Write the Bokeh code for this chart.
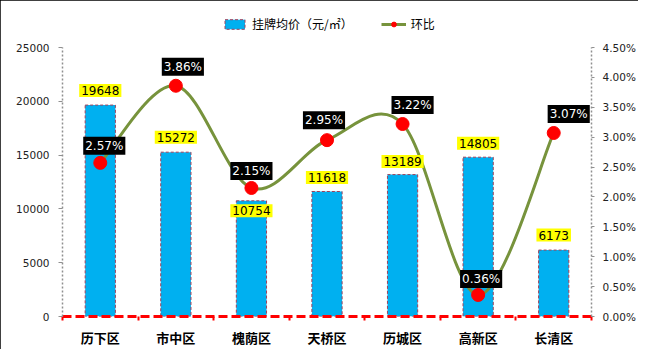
from bokeh.plotting import figure
from bokeh.models import (Range1d, LinearAxis, FixedTicker, Legend, LegendItem,
                          PrintfTickFormatter)
from bokeh.embed import file_html
from bokeh.resources import INLINE
from bokeh.core.properties import value

# ---------------- data ----------------
categories = ["历下区", "市中区", "槐荫区", "天桥区", "历城区", "高新区", "长清区"]
prices = [19648, 15272, 10754, 11618, 13189, 14805, 6173]
mom_pct = [2.57, 3.86, 2.15, 2.95, 3.22, 0.36, 3.07]
price_ticks = [0, 5000, 10000, 15000, 20000, 25000]
pct_ticks = [0.0, 0.5, 1.0, 1.5, 2.0, 2.5, 3.0, 3.5, 4.0, 4.5]
bar_label = "挂牌均价（元/㎡）"
line_label = "环比"

# label placement (screen px, styling only)
bar_label_dy = [-14.5, -15, 10, -14, -13, -14, -15]
pct_label_dx = [4, 7, 0, -3, 10, 3, 15]
pct_label_dy = [-17, -19, -17, -20, -19, -16, -19]

n = len(categories)
xs = [i + 0.5 for i in range(n)]

NUM_FONT = "DejaVu Sans"
CJK_FONT = "Noto Sans CJK SC"

# layout (px): plotted axis span and headroom above it for the legend
FRAME_W = 529
BORDER_L, BORDER_R, BORDER_T, BORDER_B = 62, 45, 4, 31
AXIS_SPAN = 269          # pixel height of 0..max tick
FRAME_H = 312
headroom = FRAME_H / AXIS_SPAN

p = figure(frame_width=FRAME_W, frame_height=FRAME_H, x_range=Range1d(0, n),
           y_range=Range1d(price_ticks[0], price_ticks[-1] * headroom),
           output_backend="svg", toolbar_location=None,
           min_border_left=BORDER_L, min_border_right=BORDER_R,
           min_border_top=BORDER_T, min_border_bottom=BORDER_B)
p.extra_y_ranges = {"pct": Range1d(pct_ticks[0], pct_ticks[-1] * headroom)}
p.outline_line_color = None
p.xgrid.visible = False
p.ygrid.visible = False
p.background_fill_color = "white"
p.border_fill_color = "white"
p.styles = {"outline": "2px solid black", "outline-offset": "-2px"}

# ---------------- bars ----------------
bars = p.vbar(x=xs, top=prices, width=0.4, bottom=0,
              fill_color="#00B0F0", line_color="#A0405A",
              line_dash="3 2", line_width=1)

# ---------------- smooth line ----------------
def tangent(i):
    a = max(i - 1, 0)
    b = min(i + 1, n - 1)
    return ((xs[b] - xs[a]) / 6.0, (mom_pct[b] - mom_pct[a]) / 6.0)

x0, y0, x1, y1, cx0, cy0, cx1, cy1 = [], [], [], [], [], [], [], []
for i in range(n - 1):
    t0 = tangent(i)
    t1 = tangent(i + 1)
    x0.append(xs[i]); y0.append(mom_pct[i])
    x1.append(xs[i + 1]); y1.append(mom_pct[i + 1])
    cx0.append(xs[i] + t0[0]); cy0.append(mom_pct[i] + t0[1])
    cx1.append(xs[i + 1] - t1[0]); cy1.append(mom_pct[i + 1] - t1[1])

curve = p.bezier(x0=x0, y0=y0, x1=x1, y1=y1, cx0=cx0, cy0=cy0, cx1=cx1, cy1=cy1,
                 line_color="#77933C", line_width=3, y_range_name="pct")
dots = p.scatter(x=xs, y=mom_pct, size=13, marker="circle",
                 fill_color="#FF0000", line_color="#FF0000", y_range_name="pct")

# ---------------- data labels ----------------
p.text(x=xs, y=prices, text=[str(v) for v in prices],
       text_align="center", text_baseline="middle", y_offset=bar_label_dy,
       text_font=value(NUM_FONT), text_font_size="12px", text_color="black",
       background_fill_color="#FFFF00", padding=2)

p.text(x=xs, y=mom_pct, text=[f"{v:.2f}%" for v in mom_pct],
       text_align="center", text_baseline="middle",
       x_offset=pct_label_dx, y_offset=pct_label_dy,
       text_font=value(NUM_FONT), text_font_size="12px", text_color="white",
       background_fill_color="black", padding=2, y_range_name="pct")

# ---------------- axes ----------------
xa = p.xaxis[0]
xa.ticker = FixedTicker(ticks=xs, minor_ticks=list(range(n + 1)))
xa.major_label_overrides = {x: c for x, c in zip(xs, categories)}
xa.axis_line_color = "#FF0000"
xa.axis_line_width = 3
xa.axis_line_dash = "9 4"
xa.major_tick_line_color = None
xa.major_tick_out = 0
xa.major_tick_in = 0
xa.minor_tick_line_color = "#FF0000"
xa.minor_tick_line_width = 2
xa.minor_tick_out = 4
xa.minor_tick_in = 0
xa.major_label_standoff = 7
xa.major_label_text_font = CJK_FONT
xa.major_label_text_font_style = "bold"
xa.major_label_text_font_size = "13px"
xa.major_label_text_color = "black"

ya = p.yaxis[0]
ya.ticker = FixedTicker(ticks=price_ticks)
ya.bounds = (price_ticks[0], price_ticks[-1])
ya.axis_line_color = "#909090"
ya.axis_line_dash = "2 2"
ya.axis_line_width = 1.5
ya.major_tick_line_color = "#909090"
ya.major_tick_out = 4
ya.major_tick_in = 0
ya.minor_tick_line_color = None
ya.major_label_standoff = 9
ya.major_label_text_font = NUM_FONT
ya.major_label_text_font_size = "10.5px"
ya.major_label_text_color = "#222222"

ra = LinearAxis(y_range_name="pct", ticker=FixedTicker(ticks=pct_ticks),
                formatter=PrintfTickFormatter(format="%.2f%%"),
                bounds=(pct_ticks[0], pct_ticks[-1]))
ra.axis_line_color = "#909090"
ra.axis_line_dash = "2 2"
ra.axis_line_width = 1.5
ra.major_tick_line_color = "#909090"
ra.major_tick_out = 3
ra.major_tick_in = 0
ra.minor_tick_line_color = None
ra.major_label_standoff = 8
ra.major_label_text_font = NUM_FONT
ra.major_label_text_font_size = "10.5px"
ra.major_label_text_color = "#222222"
p.add_layout(ra, "right")

# ---------------- legend ----------------
legend = Legend(items=[LegendItem(label=bar_label, renderers=[bars]),
                       LegendItem(label=line_label, renderers=[curve, dots])],
                orientation="horizontal", location=(160, 284),
                margin=0, padding=0, spacing=28,
                glyph_width=25, glyph_height=12, label_standoff=5,
                label_height=14,
                label_text_font=CJK_FONT, label_text_font_size="12px",
                label_text_color="black",
                border_line_color=None, background_fill_alpha=0)
p.add_layout(legend)

open("out.html", "w").write(file_html(p, INLINE))
